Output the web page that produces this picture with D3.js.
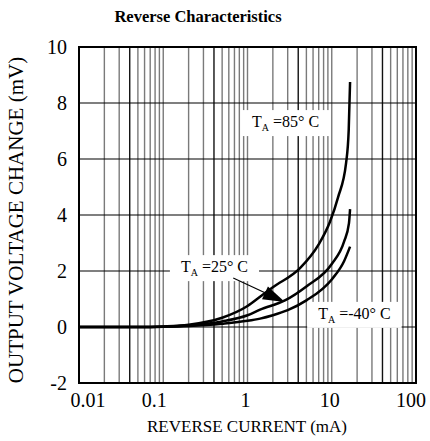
<!DOCTYPE html>
<html>
<head>
<meta charset="UTF-8">
<script src="https://d3js.org/d3.v7.min.js"></script>
<style>
  body { margin: 0; background: #fff; }
</style>
</head>
<body>
<div id="chart"></div>
<script>
// data (mA, mV)
var curve85 = [[0.01,0],[0.05,0],[0.1,0.02],[0.2,0.08],[0.5,0.33],[1,0.75],[1.41,1.08],[2,1.42],[4.2,2.1],[7,2.95],[9.5,3.75],[11.9,4.64],[14.8,5.86],[15.9,7.04],[16.5,8.75]];
var curve25 = [[0.01,0],[0.05,0],[0.1,0.01],[0.2,0.05],[0.5,0.2],[1,0.42],[1.41,0.62],[2.78,0.95],[5,1.45],[10,2.25],[14,3.05],[16,3.7],[16.5,4.21]];
var curveM40 = [[0.01,0],[0.05,0],[0.1,0.01],[0.2,0.04],[0.5,0.12],[1,0.22],[1.41,0.3],[2,0.42],[3,0.6],[5,0.95],[10,1.7],[14,2.35],[16.5,2.87]];
var xTicks = [0.01, 0.1, 1, 10, 100];
var xTickLabels = ["0.01", "0.1", "1", "10", "100"];
var yTicks = [-2, 0, 2, 4, 6, 8, 10];
var labels = [
  {t: "85° C", x: 1.13, y: 7.14},
  {t: "25° C", x: 0.162, y: 1.96},
  {t: "-40° C", x: 6.9, y: 0.29}
];

var FONT = "'Liberation Serif', 'Times New Roman', Times, serif";
var W = 430, H = 441;
var svg = d3.select("#chart").append("svg").attr("width", W).attr("height", H)
  .style("font-family", FONT);

var x = d3.scaleLog().domain([0.01, 100]).range([79, 416]);
var y = d3.scaleLinear().domain([-2, 10]).range([383, 47]);

// vertical grid (1..9 per decade)
var minor = [];
for (var d = 0.01; d < 100; d *= 10) {
  for (var k = 1; k <= 9; k++) minor.push(+(d * k).toPrecision(3));
}
svg.append("g").selectAll("line").data(minor).enter().append("line")
  .attr("x1", function(v) { return x(v); }).attr("x2", function(v) { return x(v); })
  .attr("y1", y(10)).attr("y2", y(-2))
  .attr("stroke", function(v, i) { return (i % 9 === 3) ? "#111" : "#7a7a7a"; })
  .attr("stroke-width", 1.4);

// horizontal grid
svg.append("g").selectAll("line").data(yTicks).enter().append("line")
  .attr("x1", x(0.01)).attr("x2", x(100))
  .attr("y1", function(v) { return y(v); }).attr("y2", function(v) { return y(v); })
  .attr("stroke", "#000").attr("stroke-width", 1.2);

// frame
svg.append("rect").attr("x", x(0.01)).attr("y", y(10))
  .attr("width", x(100) - x(0.01)).attr("height", y(-2) - y(10))
  .attr("fill", "none").attr("stroke", "#000").attr("stroke-width", 2);

// tick labels
svg.append("g").selectAll("text").data(yTicks).enter().append("text")
  .attr("x", 67).attr("y", function(v) { return y(v) + 7; })
  .attr("text-anchor", "end").style("font-size", "20px")
  .text(function(v) { return v; });

var xShift = [9, -9, -2, -2, -5];
svg.append("g").selectAll("text").data(xTicks).enter().append("text")
  .attr("x", function(v, i) { return x(v) + xShift[i]; }).attr("y", 407)
  .attr("text-anchor", "middle").style("font-size", "20px")
  .text(function(v, i) { return xTickLabels[i]; });

// titles
svg.append("text").attr("x", 198).attr("y", 22).attr("text-anchor", "middle")
  .style("font-size", "16.5px").style("font-weight", "bold").text("Reverse Characteristics");
svg.append("text").attr("x", 247).attr("y", 432).attr("text-anchor", "middle")
  .style("font-size", "17px").text("REVERSE CURRENT (mA)");
svg.append("text").attr("transform", "translate(23,220) rotate(-90)").attr("text-anchor", "middle")
  .style("font-size", "21px").text("OUTPUT VOLTAGE CHANGE (mV)");

// curves
var line = d3.line()
  .x(function(p) { return x(p[0]); })
  .y(function(p) { return y(p[1]); })
  .curve(d3.curveMonotoneX);
[curve85, curve25, curveM40].forEach(function(c) {
  svg.append("path").datum(c).attr("d", line)
    .attr("fill", "none").attr("stroke", "#000").attr("stroke-width", 2.5);
});

// labels with white boxes
labels.forEach(function(l) {
  var g = svg.append("g");
  var bg = g.append("rect").attr("fill", "#fff");
  var t = g.append("text").attr("x", x(l.x)).attr("y", y(l.y)).style("font-size", "16px");
  t.append("tspan").text("T");
  t.append("tspan").attr("dy", 4).style("font-size", "10px").text("A");
  t.append("tspan").attr("dy", -4).text(" =" + l.t);
  var b = t.node().getBBox();
  bg.attr("x", b.x - 11).attr("y", b.y - 3).attr("width", b.width + 22).attr("height", b.height + 6);
});

// arrow for 25 C label
var a0 = [0.677, 1.75], a1 = [2.78, 0.89];
var px0 = x(a0[0]), py0 = y(a0[1]), px1 = x(a1[0]), py1 = y(a1[1]);
var ang = Math.atan2(py1 - py0, px1 - px0);
var len = 22, half = 7;
var bx = px1 - len * Math.cos(ang), by = py1 - len * Math.sin(ang);
svg.append("line").attr("x1", px0).attr("y1", py0).attr("x2", bx).attr("y2", by)
  .attr("stroke", "#000").attr("stroke-width", 1.2);
svg.append("path")
  .attr("d", "M" + px1 + "," + py1 +
    "L" + (bx + half * Math.sin(ang)) + "," + (by - half * Math.cos(ang)) +
    "L" + (bx - half * Math.sin(ang)) + "," + (by + half * Math.cos(ang)) + "Z")
  .attr("fill", "#000");
</script>
</body>
</html>
